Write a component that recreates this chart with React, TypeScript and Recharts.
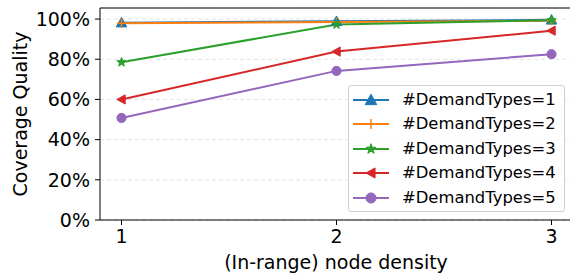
import React from 'react';
import { LineChart, Line, XAxis, YAxis, CartesianGrid, ReferenceLine } from 'recharts';

const densities = [1, 2, 3];
const demandTypes1 = [98.2, 98.9, 99.6];
const demandTypes2 = [97.9, 98.5, 99.2];
const demandTypes3 = [78.5, 97.3, 99.4];
const demandTypes4 = [60.0, 83.8, 94.2];
const demandTypes5 = [50.8, 74.2, 82.5];
const yTicks = [0, 20, 40, 60, 80, 100];
const xTicks = [1, 2, 3];

const seriesNames = [
  '#DemandTypes=1',
  '#DemandTypes=2',
  '#DemandTypes=3',
  '#DemandTypes=4',
  '#DemandTypes=5',
];
const seriesValues = [demandTypes1, demandTypes2, demandTypes3, demandTypes4, demandTypes5];
const colors = ['#1f77b4', '#ff7f0e', '#2ca02c', '#d62728', '#9467bd'];
const markers = ['triangle', 'plus', 'star', 'left', 'circle'];

const data = densities.map((d, i) => {
  const row: Record<string, number> = { x: d };
  seriesValues.forEach((vals, s) => {
    row['s' + s] = vals[i];
  });
  return row;
});

const font = '"DejaVu Sans", sans-serif';

function starPath(cx: number, cy: number, r: number) {
  const pts: string[] = [];
  for (let k = 0; k < 10; k++) {
    const rr = k % 2 === 0 ? r : r * 0.42;
    const a = -Math.PI / 2 + (k * Math.PI) / 5;
    pts.push(`${cx + rr * Math.cos(a)},${cy + rr * Math.sin(a)}`);
  }
  return 'M' + pts.join('L') + 'Z';
}

function Marker({ kind, cx, cy, color, scale = 1 }: { kind: string; cx: number; cy: number; color: string; scale?: number }) {
  const s = 4.6 * scale;
  if (kind === 'triangle') {
    const t = s * 1.15;
    return <path d={`M${cx},${cy - t}L${cx + t},${cy + t * 0.8}L${cx - t},${cy + t * 0.8}Z`} fill={color} stroke={color} strokeWidth={1} />;
  }
  if (kind === 'plus') {
    return (
      <g stroke={color} strokeWidth={1.5}>
        <line x1={cx - s} y1={cy} x2={cx + s} y2={cy} />
        <line x1={cx} y1={cy - s} x2={cx} y2={cy + s} />
      </g>
    );
  }
  if (kind === 'star') {
    return <path d={starPath(cx, cy, s * 1.05)} fill={color} stroke={color} strokeWidth={1} />;
  }
  if (kind === 'left') {
    return <path d={`M${cx - s},${cy}L${cx + s * 0.8},${cy - s}L${cx + s * 0.8},${cy + s}Z`} fill={color} stroke={color} strokeWidth={1} />;
  }
  return <circle cx={cx} cy={cy} r={s} fill={color} stroke={color} strokeWidth={1} />;
}

export default function App() {
  return (
    <div style={{ position: 'absolute', left: 0, top: 0, width: 570, height: 276, overflow: 'hidden', background: '#fff', fontFamily: font }}>
      <LineChart width={573} height={276} data={data} margin={{ top: 8, right: 0, bottom: 0, left: 0 }}>
        <CartesianGrid vertical={false} stroke="#e3e3e3" strokeDasharray="4 3" />
        <XAxis
          dataKey="x"
          type="number"
          domain={[0.9, 3.1]}
          ticks={xTicks}
          height={56}
          tickSize={5}
          tickMargin={5}
          stroke="#000"
          tick={{ fill: '#000', fontSize: 19, fontFamily: font }}
          label={{
            content: () => (
              <text x={336} y={269} textAnchor="middle" fontSize={19} fontFamily={font} fill="#000">
                (In-range) node density
              </text>
            ),
          }}
        />
        <YAxis
          type="number"
          domain={[0, 105.5]}
          ticks={yTicks}
          width={100}
          tickSize={5}
          tickMargin={5}
          stroke="#000"
          tickFormatter={(v: number) => `${v}%`}
          tick={{ fill: '#000', fontSize: 19, fontFamily: font }}
          label={{
            content: () => (
              <text
                x={20}
                y={114}
                transform="rotate(-90 20 114)"
                textAnchor="middle"
                dominantBaseline="central"
                fontSize={19}
                fontFamily={font}
                fill="#000"
              >
                Coverage Quality
              </text>
            ),
          }}
        />
        <ReferenceLine y={105.5} stroke="#000" strokeWidth={1} />
        {seriesNames.map((name, s) => (
          <Line
            key={name}
            dataKey={'s' + s}
            name={name}
            type="linear"
            stroke={colors[s]}
            strokeWidth={2}
            isAnimationActive={false}
            dot={(p: any) => <Marker key={p.index} kind={markers[s]} cx={p.cx} cy={p.cy} color={colors[s]} />}
            activeDot={false}
          />
        ))}
      </LineChart>
      <div
        style={{
          position: 'absolute',
          left: 348,
          top: 85,
          width: 217,
          height: 127,
          boxSizing: 'border-box',
          border: '1px solid #d0d0d0',
          borderRadius: 3,
          background: 'rgba(255,255,255,0.8)',
        }}
      >
        {seriesNames.map((name, s) => (
          <div key={name} style={{ position: 'absolute', left: 0, top: 2 + s * 24.4, height: 24, width: '100%' }}>
            <svg width={50} height={24} style={{ position: 'absolute', left: 0, top: 0 }}>
              <line x1={4} y1={12} x2={40} y2={12} stroke={colors[s]} strokeWidth={2} />
              <Marker kind={markers[s]} cx={22} cy={12} color={colors[s]} scale={1.1} />
            </svg>
            <span style={{ position: 'absolute', left: 53, top: 0, lineHeight: '24px', fontSize: 16.4, color: '#000', whiteSpace: 'nowrap' }}>
              {name}
            </span>
          </div>
        ))}
      </div>
    </div>
  );
}
